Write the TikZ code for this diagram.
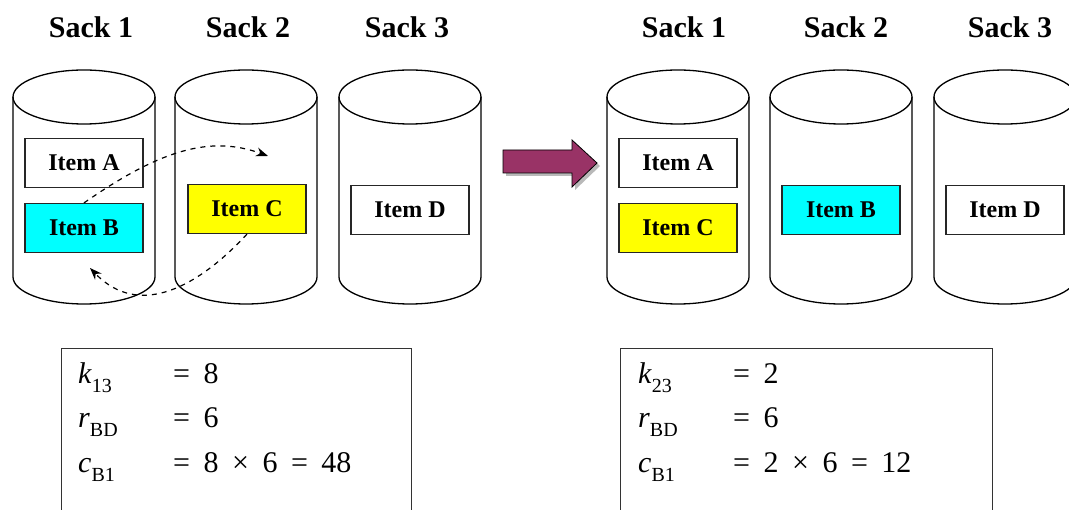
\documentclass[tikz,border=0pt]{standalone}
\usepackage{fontspec}
\setmainfont{Liberation Serif}
\usetikzlibrary{arrows.meta}

\definecolor{movepurple}{RGB}{153,51,102}
\definecolor{itemcyan}{RGB}{0,255,255}
\definecolor{itemyellow}{RGB}{255,255,0}
\newcommand\sub[1]{\raisebox{-9pt}{\fontsize{20}{20}\selectfont #1}}
\newcommand\gap{\hspace{0.45em}}

\tikzset{
  sackline/.style={line width=1.3pt},
  sack/.pic={
    \draw[sackline] (-71,0) -- (-71,180) arc[start angle=180,end angle=0,x radius=71,y radius=27] -- (71,0);
    \draw[sackline] (0,0) ellipse[x radius=71,y radius=27];
  },
  head/.style={font=\fontsize{30}{30}\selectfont\bfseries},
  item/.style={draw=black!85,line width=1.2pt,minimum width=118pt,minimum height=49pt,inner sep=0pt,
    font=\fontsize{24}{24}\selectfont\bfseries},
  move/.style={->,dash pattern=on 5pt off 5pt,line width=1.2pt},
  calcbox/.style={draw=black!80,line width=1.3pt,anchor=north west,inner sep=0pt},
  calc/.style={anchor=base west,inner sep=0pt,font=\fontsize{30}{30}\selectfont}
}

\begin{document}
\begin{tikzpicture}[x=1pt,y=-1pt,>={Stealth[length=12pt,width=9pt]}]
  \useasboundingbox (0,0) rectangle (1069,510);
  \clip (0,0) rectangle (1069,510);

  % sacks
  \foreach \cx in {84,246,410,678,841,1005}
    \pic at (\cx,97) {sack};

  \node[head] (h11) at (91,27)   {Sack 1};
  \node[head] (h12) at (248,27)  {Sack 2};
  \node[head] (h13) at (407,27)  {Sack 3};
  \node[head] (h21) at (684,27)  {Sack 1};
  \node[head] (h22) at (846,27)  {Sack 2};
  \node[head] (h23) at (1010,27) {Sack 3};

  % items before the move
  \node[item]                 (ia1) at (84,163)  {Item A};
  \node[item,fill=itemcyan]   (ib1) at (84,228)  {Item B};
  \node[item,fill=itemyellow] (ic1) at (247,209) {Item C};
  \node[item]                 (id1) at (410,210) {Item D};

  % items after the move
  \node[item]                 (ia2) at (678,163)  {Item A};
  \node[item,fill=itemyellow] (ic2) at (678,228)  {Item C};
  \node[item,fill=itemcyan]   (ib2) at (841,210)  {Item B};
  \node[item]                 (id2) at (1005,210) {Item D};

  % swap
  \coordinate (t2) at (268,156);
  \coordinate (t1) at (90,268);
  \draw[move] (ib1.north) .. controls (160,150) and (210,135) .. (t2);
  \draw[move] (ic1.south) .. controls (200,285) and (140,320) .. (t1);

  % big arrow
  \fill[gray!55,shift={(3,3)}] (503,150) -- (572,150) -- (572,140) -- (597,163)
    -- (572,187) -- (572,173) -- (503,173) -- cycle;
  \filldraw[fill=movepurple,draw=black,line width=0.8pt] (503,150) -- (572,150) -- (572,140)
    -- (597,163) -- (572,187) -- (572,173) -- (503,173) -- cycle;

  % costs
  \node[calcbox,minimum width=350pt,minimum height=190pt] (box1) at (61,348) {};
  \node[calcbox,minimum width=372pt,minimum height=190pt] (box2) at (620,348) {};

  \node[calc] (kl)  at (78,384)  {\textit{k}\sub{13}};
  \node[calc] (klv) at (173,384) {=\gap 8};
  \node[calc] (rl)  at (78,428)  {\textit{r}\sub{BD}};
  \node[calc] (rlv) at (173,428) {=\gap 6};
  \node[calc] (cl)  at (78,473)  {\textit{c}\sub{B1}};
  \node[calc] (clv) at (173,473) {=\gap 8\gap ×\gap 6\gap =\gap 48};

  \node[calc] (kr)  at (638,384) {\textit{k}\sub{23}};
  \node[calc] (krv) at (733,384) {=\gap 2};
  \node[calc] (rr)  at (638,428) {\textit{r}\sub{BD}};
  \node[calc] (rrv) at (733,428) {=\gap 6};
  \node[calc] (cr)  at (638,473) {\textit{c}\sub{B1}};
  \node[calc] (crv) at (733,473) {=\gap 2\gap ×\gap 6\gap =\gap 12};
\end{tikzpicture}
\end{document}
